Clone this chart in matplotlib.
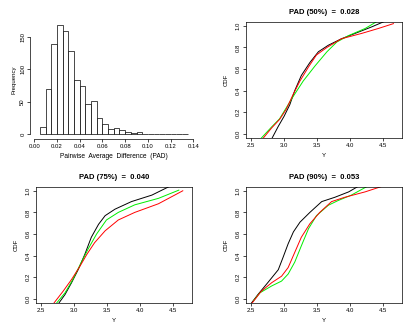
import matplotlib
matplotlib.use("Agg")
import matplotlib.pyplot as plt
import numpy as np

plt.rcParams['font.family'] = ['Liberation Sans', 'DejaVu Sans']

# histogram of PAD, bins of width 0.005 starting at 0.005
bin_left = np.arange(0.005, 0.135, 0.005)
counts = [11, 70, 139, 168, 158, 128, 84, 74, 46, 51, 25, 16, 8, 9, 7, 4,
          2, 3, 0, 0, 1, 0, 1, 0, 0, 1]

titles = ["PAD (50%)  =  0.028", "PAD (75%)  =  0.040", "PAD (90%)  =  0.053"]

# CDF curves
black_50_x = [2.815, 2.91, 3.0, 3.085, 3.16, 3.26, 3.39, 3.52, 3.67, 3.87, 4.08, 4.33, 4.56]
black_50_y = [-0.04, 0.07, 0.165, 0.27, 0.40, 0.54, 0.66, 0.76, 0.82, 0.88, 0.93, 0.99, 1.05]
red_50_x = [2.68, 2.81, 2.93, 3.03, 3.14, 3.24, 3.37, 3.49, 3.65, 3.87, 4.18, 4.43, 4.66]
red_50_y = [-0.04, 0.056, 0.134, 0.227, 0.37, 0.49, 0.62, 0.73, 0.80, 0.88, 0.93, 0.975, 1.02]
green_50_x = [2.65, 2.81, 2.93, 3.03, 3.14, 3.29, 3.47, 3.65, 3.80, 3.98, 4.23, 4.41]
green_50_y = [-0.04, 0.065, 0.14, 0.24, 0.35, 0.49, 0.63, 0.76, 0.85, 0.91, 0.975, 1.04]

black_75_x = [2.765, 2.86, 2.96, 3.06, 3.16, 3.26, 3.37, 3.47, 3.62, 3.87, 4.18, 4.48]
black_75_y = [-0.04, 0.04, 0.15, 0.27, 0.41, 0.57, 0.69, 0.77, 0.83, 0.90, 0.96, 1.05]
green_75_x = [2.73, 2.86, 2.98, 3.11, 3.21, 3.34, 3.49, 3.67, 3.92, 4.28, 4.59]
green_75_y = [-0.04, 0.056, 0.18, 0.34, 0.46, 0.60, 0.73, 0.80, 0.87, 0.93, 1.006]
red_75_x = [2.69, 2.83, 2.96, 3.09, 3.19, 3.31, 3.47, 3.67, 3.92, 4.28, 4.65]
red_75_y = [-0.04, 0.07, 0.18, 0.305, 0.41, 0.52, 0.63, 0.73, 0.80, 0.88, 1.0]

black_90_x = [2.5, 2.60, 2.75, 2.91, 2.98, 3.06, 3.14, 3.24, 3.39, 3.57, 3.77, 3.98, 4.15]
black_90_y = [-0.04, 0.04, 0.15, 0.27, 0.38, 0.51, 0.62, 0.71, 0.80, 0.90, 0.94, 0.99, 1.05]
red_90_x = [2.51, 2.65, 2.81, 2.96, 3.06, 3.16, 3.26, 3.39, 3.54, 3.72, 3.92, 4.23, 4.48]
red_90_y = [-0.04, 0.07, 0.15, 0.21, 0.29, 0.43, 0.57, 0.695, 0.80, 0.90, 0.94, 0.99, 1.04]
green_90_x = [2.53, 2.63, 2.81, 2.96, 3.06, 3.16, 3.26, 3.37, 3.49, 3.67, 3.82, 4.02, 4.26]
green_90_y = [-0.02, 0.056, 0.12, 0.165, 0.23, 0.34, 0.49, 0.65, 0.77, 0.866, 0.91, 0.96, 1.04]

curves = [
    [(black_50_x, black_50_y, 'black'), (green_50_x, green_50_y, '#00ee00'), (red_50_x, red_50_y, 'red')],
    [(black_75_x, black_75_y, 'black'), (green_75_x, green_75_y, '#00ee00'), (red_75_x, red_75_y, 'red')],
    [(black_90_x, black_90_y, 'black'), (green_90_x, green_90_y, '#00ee00'), (red_90_x, red_90_y, 'red')],
]

W, H = 420, 331
fig = plt.figure(figsize=(4.2, 3.31), dpi=100)

def box(x0, y0, x1, y1):
    return [x0 / W, 1 - y1 / H, (x1 - x0) / W, (y1 - y0) / H]

fs = 4.3
tick_kw = dict(labelsize=fs, length=2, width=0.5, pad=1.5, direction='out')

# histogram
ax = fig.add_axes(box(34.3, 20.6, 193.3, 138.7))
ax.bar(bin_left, counts, width=0.005, align='edge', color='white',
       edgecolor='black', linewidth=0.5)
ax.set_xlim(0, 0.14)
ax.set_ylim(-6.7, 174.7)
for s in ['top', 'right']:
    ax.spines[s].set_visible(False)
ax.spines['bottom'].set_bounds(0, 0.14)
ax.spines['left'].set_bounds(0, 150)
ax.spines['left'].set_position(('outward', 3))
for s in ['bottom', 'left']:
    ax.spines[s].set_linewidth(0.5)
ax.set_xticks(np.arange(0, 0.141, 0.02))
ax.set_xticklabels(["0.00", "0.02", "0.04", "0.06", "0.08", "0.10", "0.12", "0.14"])
ax.set_yticks([0, 50, 100, 150])
ax.tick_params(**tick_kw)
for lab in ax.get_yticklabels():
    lab.set_rotation(90)
    lab.set_va('center')
ax.set_xlabel("Pairwise  Average  Difference  (PAD)", fontsize=fs + 0.5, labelpad=3)
ax.set_ylabel("Frequency", fontsize=fs, labelpad=3)

# CDF panels
panels = [box(245.7, 22, 402, 137.7), box(35.7, 187, 192, 302.7), box(245.7, 187, 402, 302.7)]
for pos, title, lines in zip(panels, titles, curves):
    ax = fig.add_axes(pos)
    for xs, ys, c in lines:
        ax.plot(xs, ys, color=c, linewidth=0.7)
    ax.set_xlim(2.415, 4.79)
    ax.set_ylim(-0.035, 1.035)
    ax.set_xticks([2.5, 3.0, 3.5, 4.0, 4.5])
    ax.set_yticks([0, 0.2, 0.4, 0.6, 0.8, 1.0])
    ax.set_yticklabels(["0.0", "0.2", "0.4", "0.6", "0.8", "1.0"])
    ax.tick_params(**tick_kw)
    for lab in ax.get_yticklabels():
        lab.set_rotation(90)
        lab.set_va('center')
    for s in ax.spines.values():
        s.set_linewidth(0.5)
    ax.set_title(title, fontsize=fs + 1.2, fontweight='bold', pad=6)
    ax.set_xlabel("Y", fontsize=fs, labelpad=4)
    ax.set_ylabel("CDF", fontsize=fs, labelpad=5)

fig.savefig("out.png", dpi=100)
